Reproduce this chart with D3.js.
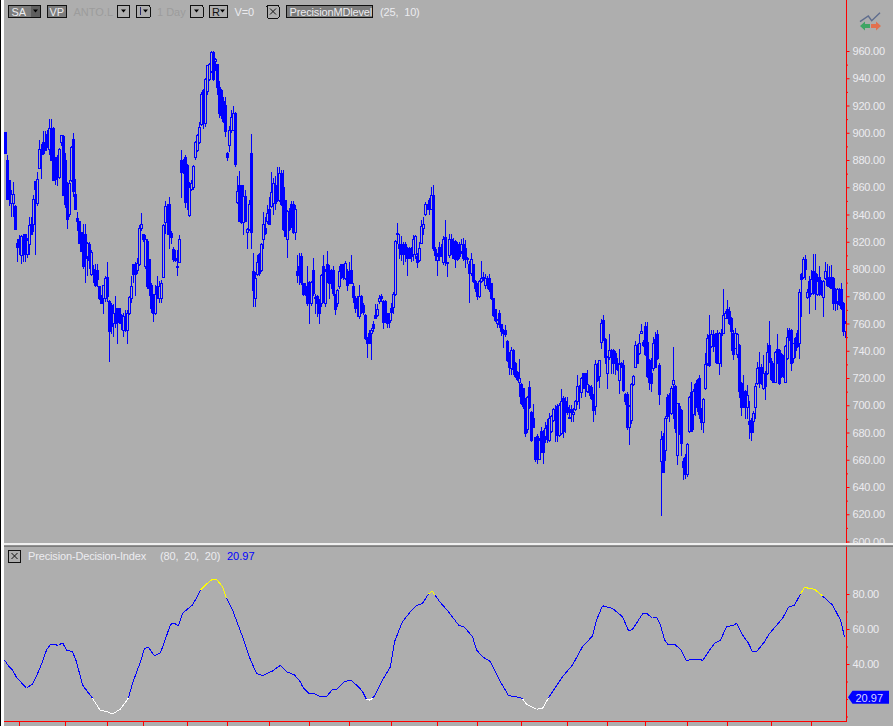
<!DOCTYPE html>
<html>
<head>
<meta charset="utf-8">
<script src="https://cdn.jsdelivr.net/npm/d3@7"></script>
<style>
  html, body { margin: 0; padding: 0; background: #aeaeae; overflow: hidden; }
  svg { display: block; font-family: "Liberation Sans", Arial, sans-serif; font-size: 11px; }
  svg text { white-space: pre; }
  .label { fill: #ececf0; letter-spacing: -0.15px; }
  .dim { fill: #9c9c9c; }
  .axis path, .axis line { stroke: #ff0000; }
  .axis text { fill: #ececf0; font-family: "Liberation Sans", Arial, sans-serif; font-size: 11px; letter-spacing: -0.2px; }
</style>
</head>
<body>
<div id="chart"></div>
<script>
// Candles, one entry per bar, left to right
const opens = [
  900,880,865,848,848,846,819,822,810,824,
  825,811,818,833,833,864,848,874,888,893,
  893,899,888,903,903,880,882,867,893,897,
  880,854,840,865,895,855,837,835,827,825,
  825,809,818,796,800,799,799,787,780,778,
  778,794,776,773,760,767,771,771,766,755,
  765,755,767,778,803,802,799,803,830,825,
  802,820,807,788,780,767,787,778,778,794,
  834,845,847,826,814,808,802,805,880,880,
  882,876,839,858,860,882,887,893,906,931,
  907,930,939,945,959,952,950,933,931,923,
  920,885,891,902,902,914,849,861,861,834,
  853,827,829,885,798,778,796,811,799,822,
  830,835,844,846,848,861,855,850,870,860,
  850,822,838,847,847,827,798,802,809,789,
  787,785,790,775,799,779,780,776,775,802,
  775,803,799,794,799,781,775,787,803,803,
  793,798,798,799,787,778,777,765,780,773,
  766,749,753,753,759,766,766,776,780,776,
  776,767,762,771,772,781,825,818,818,818,
  818,815,815,814,811,811,809,806,819,830,
  840,846,850,844,854,814,806,816,815,805,
  823,804,810,822,820,820,818,818,813,818,
  815,808,803,797,803,791,788,780,791,793,
  788,793,793,789,778,770,760,767,759,755,
  755,747,738,727,740,731,724,717,715,712,
  704,682,713,695,690,676,677,660,681,676,
  677,685,674,681,689,696,699,678,679,705,
  703,698,691,697,693,697,703,713,709,723,
  723,710,714,713,706,699,729,721,746,762,
  748,723,735,740,740,738,731,718,731,729,
  708,708,684,689,715,728,744,738,753,746,
  758,746,733,723,727,748,752,729,659,677,
  667,706,707,694,715,714,663,699,696,659,
  662,649,681,709,693,715,718,720,696,687,
  712,731,751,743,752,748,753,731,753,753,
  764,770,769,764,753,742,737,744,716,710,
  710,698,688,689,688,698,716,728,728,712,
  723,723,744,732,729,717,741,740,737,735,
  717,734,755,755,734,749,753,745,796,794,
  807,779,791,782,798,797,781,794,791,779,
  793,794,794,794,793,785,776,785,785,775,
  754
];
const closes = [
  885,851,852,855,855,829,816,816,824,811,
  812,821,832,825,851,858,866,888,884,885,
  887,890,903,880,865,866,867,888,898,854,
  847,836,863,889,857,844,835,819,813,802,
  808,819,806,812,796,788,792,778,775,788,
  793,780,754,758,767,760,762,761,760,765,
  755,767,779,787,796,796,804,830,833,822,
  822,787,786,771,767,781,778,787,789,832,
  846,834,825,823,807,806,801,822,871,871,
  849,849,860,863,875,893,898,904,928,907,
  939,949,950,959,939,954,933,914,913,908,
  901,882,902,911,914,877,857,835,834,853,
  835,829,847,827,784,793,805,797,818,833,
  826,841,833,856,863,848,850,870,847,829,
  824,842,829,832,827,844,795,795,790,781,
  781,775,776,790,782,778,775,767,795,778,
  798,793,789,790,782,770,784,798,794,795,
  804,788,791,789,779,771,771,780,769,768,
  749,745,745,755,756,764,770,778,778,761,
  761,760,761,768,781,820,826,815,811,811,
  811,808,808,809,822,824,805,815,831,833,
  847,844,844,854,815,810,809,809,810,822,
  805,805,822,813,808,807,807,809,818,808,
  807,807,797,807,791,786,780,791,793,794,
  793,788,785,778,766,762,762,759,754,753,
  752,733,728,740,726,721,719,720,701,699,
  679,706,698,674,684,660,660,674,666,665,
  683,675,690,692,697,690,678,700,703,681,
  695,695,690,695,695,703,714,709,720,712,
  713,715,709,705,696,730,718,733,760,748,
  735,735,740,735,731,731,726,730,728,711,
  703,684,699,715,721,744,731,745,754,744,
  737,721,717,716,745,728,734,708,675,651,
  690,692,694,712,718,683,701,683,672,654,
  649,671,706,681,710,698,699,693,687,704,
  730,749,729,752,745,743,731,753,751,766,
  767,764,760,754,737,753,752,710,698,699,
  698,707,686,680,694,714,727,716,722,723,
  714,739,732,719,717,739,732,716,726,721,
  743,750,748,731,745,740,743,783,792,807,
  800,783,780,792,782,783,791,781,782,791,
  798,788,787,786,775,775,785,774,771,754,
  760
];
const highs = [
  900,884,865,858,864,847,822,825,825,826,
  826,823,838,838,854,864,871,895,892,901,
  901,902,910,910,904,882,884,889,898,898,
  885,864,865,890,900,866,842,835,827,833,
  833,820,820,814,803,804,804,787,781,788,
  795,805,777,775,774,780,771,771,767,768,
  770,770,780,795,803,805,808,832,841,826,
  825,822,807,790,782,788,795,791,792,833,
  850,848,853,828,816,814,814,825,887,881,
  884,877,864,865,876,894,899,908,930,932,
  940,950,951,960,960,955,950,938,932,926,
  926,886,905,917,920,915,868,872,862,862,
  858,830,851,899,812,798,810,812,819,842,
  838,847,853,871,867,868,875,875,873,873,
  851,843,845,850,850,847,810,812,812,790,
  790,802,791,791,808,782,781,778,796,810,
  800,813,803,800,802,782,785,802,804,804,
  806,800,805,810,790,780,780,788,781,775,
  767,750,755,757,762,774,774,781,782,777,
  777,768,768,775,783,821,834,826,824,820,
  820,816,816,816,825,825,812,820,836,838,
  849,848,852,860,862,816,812,820,818,824,
  836,805,826,826,823,821,820,820,822,823,
  821,809,806,812,804,792,790,792,806,798,
  796,795,796,790,779,771,763,770,760,756,
  759,748,739,743,741,732,725,734,716,713,
  705,707,718,696,701,677,679,676,684,682,
  688,690,694,693,698,700,701,702,712,707,
  706,706,700,700,698,704,722,715,721,723,
  724,726,715,715,708,733,731,733,763,766,
  749,736,752,741,741,740,735,741,732,733,
  709,710,700,716,722,747,745,752,760,748,
  761,761,734,735,750,754,755,731,681,680,
  692,708,709,714,743,715,702,702,697,661,
  664,672,707,717,712,716,719,722,698,705,
  738,752,766,755,755,753,755,754,756,785,
  769,777,772,765,755,757,753,745,717,722,
  711,715,703,691,696,716,732,739,730,737,
  725,746,762,735,731,740,752,741,738,737,
  744,757,757,756,746,750,755,785,797,809,
  810,785,795,799,811,811,796,802,792,792,
  805,804,802,803,794,786,786,786,790,776,
  762
];
const lows = [
  885,851,846,838,838,829,805,810,804,805,
  805,808,810,825,827,810,846,874,866,884,
  887,889,884,880,865,862,861,866,890,854,
  845,829,838,864,853,844,828,819,813,800,
  790,795,800,795,790,787,787,777,774,767,
  776,776,732,752,750,757,745,760,755,750,
  754,745,766,775,790,780,796,802,828,820,
  800,785,780,768,761,766,778,775,775,794,
  826,825,815,818,805,805,795,805,852,870,
  845,843,838,857,858,880,886,892,905,903,
  904,928,938,944,938,945,928,911,910,907,
  897,879,886,900,901,875,848,835,833,825,
  835,815,828,815,772,772,795,795,798,815,
  825,833,833,845,840,843,849,849,846,828,
  825,808,828,830,826,821,790,788,788,780,
  780,773,760,773,780,767,765,760,772,775,
  772,790,778,785,780,766,772,785,793,792,
  792,784,789,789,775,768,765,763,767,766,
  748,735,745,733,754,764,765,774,776,756,
  761,757,757,762,767,780,818,807,806,803,
  805,795,807,805,806,807,801,805,818,825,
  839,843,840,843,813,806,795,806,809,803,
  802,794,808,810,807,801,806,807,811,806,
  801,804,775,795,790,783,777,779,790,791,
  785,785,783,777,765,761,757,757,751,742,
  750,732,722,722,722,720,718,706,700,697,
  677,680,697,673,683,658,657,660,665,657,
  672,672,673,680,688,673,673,677,678,676,
  680,693,690,688,688,696,700,697,705,712,
  706,709,707,704,688,693,717,713,741,747,
  730,712,733,723,723,722,725,708,727,710,
  700,682,671,686,714,727,730,737,752,743,
  736,720,711,710,725,727,733,700,619,651,
  659,690,688,693,690,680,656,678,663,645,
  646,647,680,681,682,692,695,690,682,680,
  711,729,728,742,739,731,730,722,728,752,
  763,763,759,740,733,741,735,705,692,698,
  690,690,675,674,680,690,715,713,715,711,
  704,722,731,718,716,716,730,715,720,720,
  716,733,747,725,731,735,742,734,765,793,
  792,778,767,781,781,770,780,780,780,765,
  792,787,786,785,770,769,770,773,770,751,
  749
];

// Precision-Decision-Index: bar number and value
const pdiBars = [
  0,2,4,6,9,11,14,16,19,21,23,27,29,31,34,36,39,44,48,51,54,58,62,64,68,70,72,75,78,81,
  83,85,87,89,94,96,98,101,104,106,109,111,114,119,123,126,129,134,138,141,145,148,149,152,155,158,161,164,166,170,
  173,177,179,181,183,184,185,189,193,195,199,203,206,209,212,214,215,218,222,227,230,234,236,239,243,247,252,258,259,261,
  266,269,272,274,279,284,289,294,296,299,304,309,312,314,319,321,324,326,328,330,332,335,338,341,344,348,349,352,355,358,
  361,365,366,369,372,374,376,380,382,384,389,392,395,398,400,402,405,409,414,418,420
];
const pdiValues = [
  42.3,38.9,36.6,32.4,28.6,26.1,28.6,33.1,41.3,48,51.3,50.7,52.2,48,47,41.3,28,20.4,13.3,13,11.4,14.3,20.6,29,41.3,49,49.5,44.6,46.5,56,
  62.7,63.3,61.7,69,73.7,77.7,82.3,85.7,88.4,88.4,84.2,77.5,70.9,55.6,42.3,34.7,33.3,36,39.3,35.6,33.7,29.7,27,23.3,22.9,21.3,21.3,25.5,25.5,29.9,
  30.9,27,24.2,19.8,19.3,20.6,21.7,30.9,38.5,52.7,64.2,69.9,73.3,74.7,80,81.7,79.7,75,69.9,62.3,61,55.6,48,44.2,41.3,31.8,21.9,20.8,20,17,
  14.1,14.7,20.6,24.2,32.7,39.4,49.9,56,65.1,73.3,71.8,67,59,59.8,68.6,69,66.1,67,62.3,53.7,50.9,51.3,48.4,41.9,42.7,42.7,41.9,47,51.8,53.7,
  61.3,62.3,63.3,56.6,51.8,47,47,52.7,56.6,59.4,66.1,72.4,73.7,80,83.8,83.3,82.7,78.9,73.7,65.1,55.6
];
const pdiLast = 20.97;

// Axis ticks
const priceTicks = [960,940,920,900,880,860,840,820,800,780,760,740,720,700,680,660,640,620,600];
const priceMinor = [950,930,910,890,870,850,830,810,790,770,750,730,710,690,670,650,630,610];
const pdiTicks = [80,60,40];
const pdiMinor = [70,50,30,20,10];
const dateTicks = [7,30,51,69,91,111,132,152,172,193,216,236,258,281,301,320,341,361,383,403];

// Toolbar text
const symbolName = 'ANTO.L';
const periodName = '1 Day';
const volumeText = 'V=0';
const upperStudy = 'PrecisionMDlevel';
const upperParams = '(25,  10)';
const lowerStudy = 'Precision-Decision-Index';
const lowerParams = '(80,  20,  20)';

const width = 893;
const height = 726;
const blue = '#0000ff';
const axisX = 846.5;
const upperBottom = 543;
const lowerBottom = 721.5;

const svg = d3.select('#chart')
  .append('svg')
  .attr('width', width)
  .attr('height', height);

svg.append('rect').attr('width', width).attr('height', height).attr('fill', '#aeaeae');

const defs = svg.append('defs');
defs.append('clipPath').attr('id', 'upperClip')
  .append('rect').attr('x', 0).attr('y', 0).attr('width', width).attr('height', upperBottom);

const x = d3.scaleLinear().domain([0, 420]).range([5.5, 845.5]);
const yPrice = d3.scaleLinear().domain([960, 600]).range([51, 541.5]);
const yPdi = d3.scaleLinear().domain([80, 20]).range([594, 699]);

// Candles
const candles = svg.append('g').attr('shape-rendering', 'crispEdges');
opens.forEach((open, i) => {
  const close = closes[i];
  const cx = x(i);
  const top = yPrice(Math.max(open, close));
  const bottom = yPrice(Math.min(open, close));

  candles.append('line')
    .attr('x1', cx).attr('x2', cx)
    .attr('y1', yPrice(highs[i])).attr('y2', top)
    .attr('stroke', blue);
  candles.append('line')
    .attr('x1', cx).attr('x2', cx)
    .attr('y1', bottom).attr('y2', yPrice(lows[i]))
    .attr('stroke', blue);

  const hollow = close > open;
  candles.append('rect')
    .attr('x', cx - 1)
    .attr('y', top)
    .attr('width', 2)
    .attr('height', Math.max(bottom - top, 1))
    .attr('fill', hollow ? 'none' : blue)
    .attr('stroke', blue);
});

// Indicator, coloured where it leaves the 20-80 band
const pdiColor = v => (v >= 80 ? '#ffff00' : v <= 20.4 ? '#ffffff' : blue);
const pdiLine = svg.append('g').attr('shape-rendering', 'crispEdges');
pdiValues.slice(0, -1).forEach((v, i) => {
  pdiLine.append('line')
    .attr('x1', x(pdiBars[i]) - 1).attr('y1', yPdi(v))
    .attr('x2', x(pdiBars[i + 1]) - 1).attr('y2', yPdi(pdiValues[i + 1]))
    .attr('stroke', pdiColor(v));
});

// Window edge on the left
svg.append('rect').attr('x', 0).attr('y', 0).attr('width', 1).attr('height', height).attr('fill', '#000');
svg.append('rect').attr('x', 1).attr('y', 0).attr('width', 3).attr('height', height).attr('fill', '#fff');

// Right axes
const upperAxis = svg.append('g').attr('clip-path', 'url(#upperClip)');
upperAxis.append('g')
  .attr('class', 'axis')
  .attr('transform', `translate(${axisX},0)`)
  .call(d3.axisRight(yPrice).tickValues(priceTicks).tickFormat(d3.format('.2f')).tickSize(3).tickPadding(3))
  .call(g => g.select('.domain').remove());
upperAxis.append('g')
  .attr('class', 'axis')
  .attr('transform', `translate(${axisX},0)`)
  .call(d3.axisRight(yPrice).tickValues(priceMinor).tickFormat('').tickSize(1.5))
  .call(g => g.select('.domain').remove());

const lowerAxis = svg.append('g');
lowerAxis.append('g')
  .attr('class', 'axis')
  .attr('transform', `translate(${axisX},0)`)
  .call(d3.axisRight(yPdi).tickValues(pdiTicks).tickFormat(d3.format('.2f')).tickSize(3).tickPadding(3))
  .call(g => g.select('.domain').remove());
lowerAxis.append('g')
  .attr('class', 'axis')
  .attr('transform', `translate(${axisX},0)`)
  .call(d3.axisRight(yPdi).tickValues(pdiMinor).tickFormat('').tickSize(1.5))
  .call(g => g.select('.domain').remove());

svg.append('line')
  .attr('x1', axisX).attr('x2', axisX)
  .attr('y1', 0).attr('y2', lowerBottom)
  .attr('stroke', '#ff0000')
  .attr('shape-rendering', 'crispEdges');

// Bottom axis, labels fall outside the window
svg.append('line')
  .attr('x1', 4).attr('x2', axisX)
  .attr('y1', lowerBottom).attr('y2', lowerBottom)
  .attr('stroke', '#ff0000')
  .attr('shape-rendering', 'crispEdges');
svg.selectAll('.date-tick')
  .data(dateTicks)
  .enter()
  .append('line')
  .attr('class', 'date-tick')
  .attr('x1', d => x(d)).attr('x2', d => x(d))
  .attr('y1', lowerBottom).attr('y2', height)
  .attr('stroke', '#ff0000')
  .attr('shape-rendering', 'crispEdges');

// Panel separator
svg.append('rect').attr('x', 4).attr('y', 543).attr('width', width).attr('height', 2.4).attr('fill', '#f0f0f0');
svg.append('rect').attr('x', 4).attr('y', 545.4).attr('width', width).attr('height', 1.4).attr('fill', '#707070');

// Last value tag
const tagY = yPdi(pdiLast);
svg.append('path')
  .attr('d', `M848,${tagY} L852.5,${tagY - 6.5} H889 V${tagY + 6.5} H852.5 Z`)
  .attr('fill', blue);
svg.append('text')
  .attr('x', 855.5)
  .attr('y', tagY + 4.2)
  .attr('fill', '#d4d4ff')
  .text(pdiLast.toFixed(2));

// Toolbar helpers
function button(bx, by, w, h, fill) {
  svg.append('rect')
    .attr('x', bx + 0.5).attr('y', by + 0.5)
    .attr('width', w).attr('height', h)
    .attr('rx', 1)
    .attr('fill', fill)
    .attr('stroke', '#111')
    .attr('shape-rendering', 'crispEdges');
}

function arrow(cx, cy) {
  svg.append('path')
    .attr('d', `M${cx - 2.5},${cy - 1} H${cx + 2.5} L${cx},${cy + 2} Z`)
    .attr('fill', '#000');
}

function label(tx, ty, str, cls) {
  svg.append('text').attr('class', cls || 'label').attr('x', tx).attr('y', ty).text(str);
}

function closeBox(bx, by) {
  button(bx, by, 12, 12.5, '#aeaeae');
  svg.append('path')
    .attr('d', `M${bx + 3.5},${by + 3.5} L${bx + 9.5},${by + 9.5} M${bx + 9.5},${by + 3.5} L${bx + 3.5},${by + 9.5}`)
    .attr('stroke', '#111')
    .attr('fill', 'none');
}

// Top toolbar
button(8, 5, 32, 12, '#7c7c7c');
svg.append('rect').attr('x', 31).attr('y', 6).attr('width', 9).attr('height', 11).attr('fill', '#5f5f5f');
arrow(35.5, 10.5);
label(11.5, 15.5, 'SA');
button(47, 5, 19, 12, '#7c7c7c');
label(49.5, 15.5, 'VP');
label(73.5, 15.5, symbolName, 'dim');
button(117, 5, 12, 12, '#aeaeae');
arrow(123.5, 10.5);
button(136, 5, 13.5, 12, '#aeaeae');
svg.append('rect').attr('x', 140).attr('y', 7).attr('width', 1).attr('height', 8).attr('fill', '#2a2a6a');
arrow(145.5, 10.5);
label(157, 15.5, periodName, 'dim');
button(190, 5, 12.5, 12, '#aeaeae');
arrow(196.5, 10.5);
button(209, 5, 18, 12, '#aeaeae');
svg.append('text').attr('x', 212).attr('y', 15.5).attr('fill', '#111').text('R');
arrow(222.5, 10.5);
label(234.5, 15.5, volumeText);
closeBox(266.5, 5);
button(286, 4.5, 86, 12.5, '#7c7c7c');
label(289.5, 15.5, upperStudy);
label(380, 15.5, upperParams);

// Lower panel header
closeBox(8, 549.5);
label(28, 560, lowerStudy);
label(160, 560, lowerParams);
svg.append('text').attr('x', 227).attr('y', 560).attr('fill', blue).text(pdiLast.toFixed(2));

// Small logo in the corner
svg.append('path')
  .attr('d', 'M860,21.7 L868.3,16 L871.7,20.7 L880,12.7')
  .attr('fill', 'none')
  .attr('stroke', '#5f6d8e')
  .attr('stroke-width', 1.4);
svg.append('path')
  .attr('d', 'M860,26 L865,21.5 V24 H870 V28 H865 V30.5 Z')
  .attr('fill', '#3fa565');
svg.append('path')
  .attr('d', 'M881,26 L876,21.5 V24 H871 V28 H876 V30.5 Z')
  .attr('fill', '#e2704f');
</script>
</body>
</html>
